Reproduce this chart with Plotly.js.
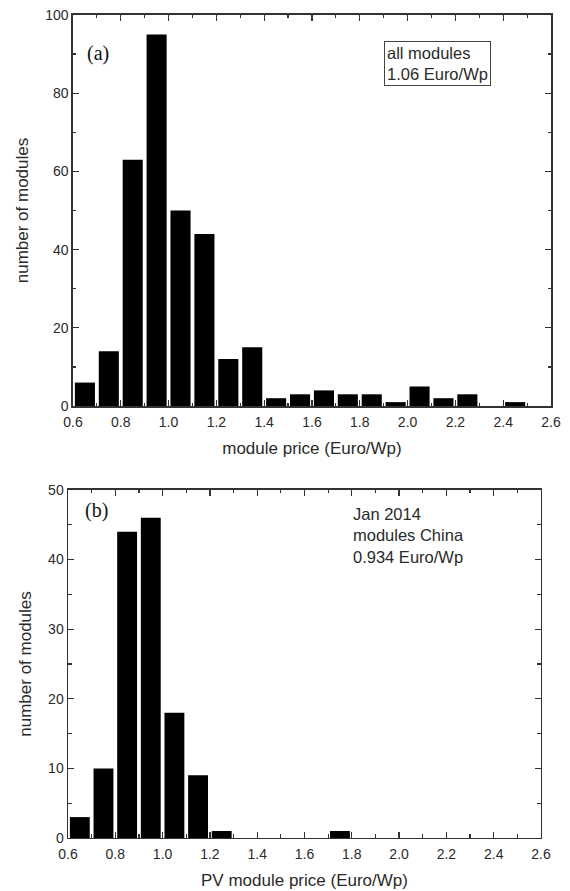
<!DOCTYPE html>
<html>
<head>
<meta charset="utf-8">
<script src="https://cdn.plot.ly/plotly-3.0.1.min.js"></script>
<style>html,body{margin:0;padding:0;background:#fff;}#chart{width:570px;height:891px;}</style>
</head>
<body>
<div id="chart"></div>
<script>
// bin centres (Euro/Wp), bin width 0.1
var priceBins = [0.65,0.75,0.85,0.95,1.05,1.15,1.25,1.35,1.45,1.55,1.65,1.75,1.85,1.95,2.05,2.15,2.25,2.35,2.45,2.55];
// (a) all modules
var countsAll = [6,14,63,95,50,44,12,15,2,3,4,3,3,1,5,2,3,0,1,0];
// (b) Jan 2014 modules China
var countsChina = [3,10,44,46,18,9,1,0,0,0,0,1,0,0,0,0,0,0,0,0];
var xTickVals = [0.6,0.8,1.0,1.2,1.4,1.6,1.8,2.0,2.2,2.4,2.6];
var xTickText = ["0.6","0.8","1.0","1.2","1.4","1.6","1.8","2.0","2.2","2.4","2.6"];
var yTicksA = [0,20,40,60,80,100];
var yTicksB = [0,10,20,30,40,50];
var labelA = "(a)", labelB = "(b)";
var noteA = ["all modules","1.06 Euro/Wp"];
var noteB = ["Jan 2014","modules China","0.934 Euro/Wp"];
var xTitleA = "module price (Euro/Wp)";
var xTitleB = "PV module price (Euro/Wp)";
var yTitle = "number of modules";

var axisCol = "#333";
var txtCol = "#2a2a2a";
var tickFont = {family:"Liberation Sans, Arial, sans-serif", size:14, color:txtCol};
var titleFont = {family:"Liberation Sans, Arial, sans-serif", size:17, color:txtCol};

function xAxis(domain, anchor, title){
  return {domain:domain, anchor:anchor, range:[0.6,2.6], tickvals:xTickVals, ticktext:xTickText,
    ticks:"inside", ticklen:6, tickwidth:1.3, tickcolor:axisCol, showline:true, linecolor:axisCol, linewidth:1.5,
    mirror:"allticks", showgrid:false, zeroline:false, tickfont:tickFont, fixedrange:true, ticklabelstandoff:3,
    minor:{dtick:0.1, tick0:0.6, ticks:"inside", ticklen:3.5, tickcolor:axisCol, tickwidth:1.2, showgrid:false},
    title:{text:title, font:titleFont, standoff:13}};
}
function yAxis(domain, anchor, range, vals, minorStep){
  return {domain:domain, anchor:anchor, range:range, tickvals:vals,
    ticks:"inside", ticklen:6, tickwidth:1.3, tickcolor:axisCol, showline:true, linecolor:axisCol, linewidth:1.5,
    mirror:"allticks", showgrid:false, zeroline:false, tickfont:tickFont, fixedrange:true,
    minor:{dtick:minorStep, ticks:"inside", ticklen:3.5, tickcolor:axisCol, tickwidth:1.2, showgrid:false},
    title:{text:yTitle, font:titleFont, standoff:12}};
}

var traces = [
  {type:"bar", x:priceBins, y:countsAll, xaxis:"x", yaxis:"y", width:0.084,
   marker:{color:"#000", line:{width:0}}, hoverinfo:"x+y"},
  {type:"bar", x:priceBins, y:countsChina, xaxis:"x2", yaxis:"y2", width:0.084,
   marker:{color:"#000", line:{width:0}}, hoverinfo:"x+y"}
];

var annFont = {family:"Liberation Sans, Arial, sans-serif", size:16.5, color:txtCol};
var layout = {
  width:570, height:891,
  margin:{l:0, r:0, t:0, b:0},
  paper_bgcolor:"#fff", plot_bgcolor:"#fff",
  showlegend:false,
  xaxis: xAxis([0.128,0.9667], "y", xTitleA),
  yaxis: yAxis([0.5443,0.9832], "x", [0,100], yTicksA, 10),
  xaxis2: xAxis([0.1193,0.9491], "y2", xTitleB),
  yaxis2: yAxis([0.0595,0.4501], "x2", [0,50], yTicksB, 5),
  annotations:[
    {xref:"paper", yref:"paper", x:0.149, y:0.9405, xanchor:"left", yanchor:"middle", showarrow:false,
     text:labelA, font:{family:"Liberation Serif, Times New Roman, serif", size:20, color:"#111"}},
    {xref:"x", yref:"y", x:1.90, y:87.6, xanchor:"left", yanchor:"middle", showarrow:false,
     text:noteA.join("<br>"), align:"left", font:annFont,
     bordercolor:"#444", borderwidth:1, borderpad:2, bgcolor:"#fff"},
    {xref:"paper", yref:"paper", x:0.1456, y:0.4276, xanchor:"left", yanchor:"middle", showarrow:false,
     text:labelB, font:{family:"Liberation Serif, Times New Roman, serif", size:20, color:"#111"}},
    {xref:"x2", yref:"y2", x:1.795, y:43.4, xanchor:"left", yanchor:"middle", showarrow:false,
     text:noteB.join("<br>"), align:"left", font:annFont}
  ]
};
Plotly.newPlot("chart", traces, layout, {displayModeBar:false, staticPlot:true});
</script>
</body>
</html>
